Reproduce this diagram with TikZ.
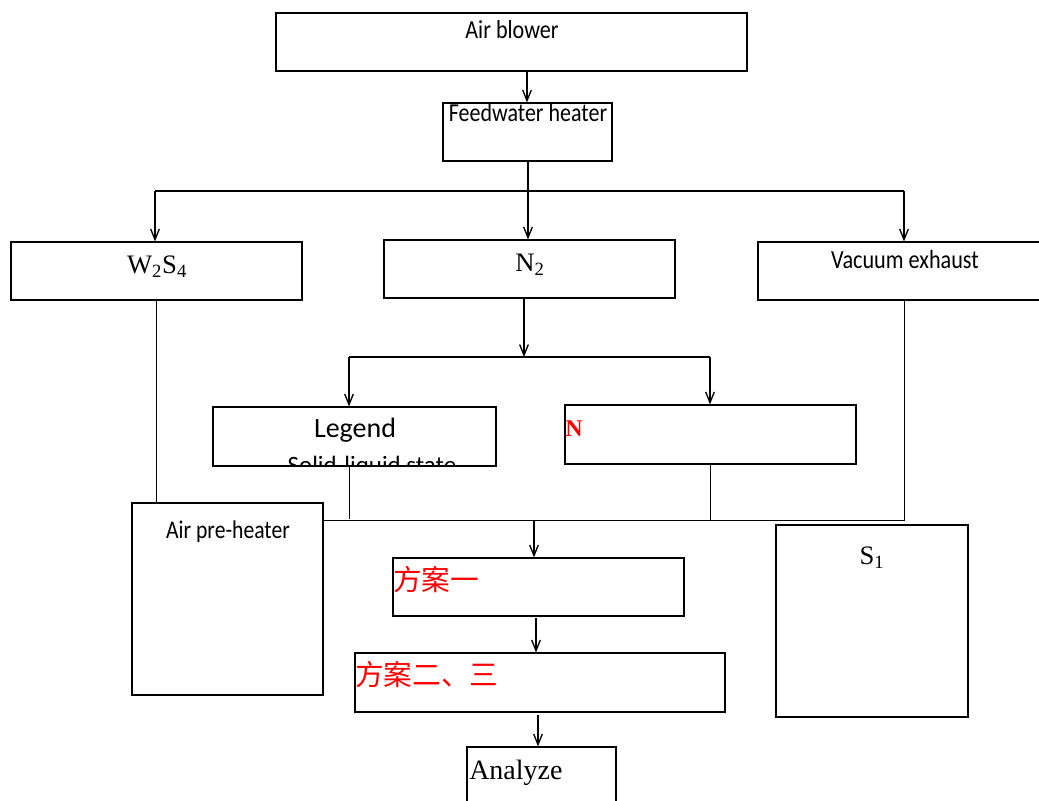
\documentclass[tikz,border=0pt]{standalone}
\usepackage{fontspec}
\setmainfont{Liberation Serif}
\newfontfamily\condf[FakeStretch=0.85]{Carlito}
\newfontfamily\calib{Carlito}
\newfontfamily\cjk{Noto Sans CJK SC}
\usetikzlibrary{arrows.meta,fit}
\tikzset{
  box/.style={draw, line width=0.9pt, inner sep=0pt, fill=none},
  arr/.style={line width=1.4pt, -{Straight Barb[length=8pt,width=6.5pt,line width=1pt]}},
  ln/.style={line width=1pt},
  thinln/.style={line width=0.7pt},
  lab/.style={inner sep=0pt, anchor=base},
  labl/.style={inner sep=0pt, anchor=base west},
}
\begin{document}
\begin{tikzpicture}[x=0.75pt,y=-0.75pt]
\useasboundingbox (0,0) rectangle (1039,800);
% boxes
\node[box, fit={(276,13) (747,71)}] (air) {};
\node[box, fit={(443,103) (612,161)}] (fw) {};
\node[box, fit={(11,242) (302,300)}] (w2) {};
\node[box, fit={(384,240) (675,298)}] (n2) {};
\node[box, fit={(758,242) (1050,300)}] (vac) {};
\node[box, fit={(213,407) (496,466)}] (leg) {};
\node[box, fit={(565,405) (856,464)}] (nb) {};
\node[box, fit={(132,503) (323,695)}] (aph) {};
\node[box, fit={(776,525) (968,717)}] (s1) {};
\node[box, fit={(393,558) (684,616)}] (fa1) {};
\node[box, fit={(355,653) (725,712)}] (fa2) {};
\node[box, fit={(467,747) (616,810)}] (ana) {};
% texts
\node[lab, font=\condf\fontsize{19.5}{22}\selectfont] (tair) at (512,38) {Air blower};
\node[lab, font=\condf\fontsize{19.4}{22}\selectfont] (tfw) at (528,121) {Feedwater heater};
\node[lab, font=\fontsize{20}{22}\selectfont] (tw2) at (157,273) {W\textsubscript{2}S\textsubscript{4}};
\node[lab, font=\fontsize{20}{22}\selectfont] (tn2) at (530,271) {N\textsubscript{2}};
\node[lab, font=\condf\fontsize{19.6}{22}\selectfont] (tvac) at (905,268) {Vacuum exhaust};
\node[lab, font=\calib\fontsize{21}{24}\selectfont] (tleg) at (355,437) {Legend};
\begin{scope}
\clip (leg.south west) rectangle (leg.north east);
\node[lab, font=\calib\fontsize{18.7}{22}\selectfont] (tsls) at (372,473) {Solid-liquid state};
\end{scope}
\node[labl, font=\bfseries\fontsize{18}{20}\selectfont, text=red] (tn) at (565,436) {N};
\node[lab, font=\condf\fontsize{19.1}{22}\selectfont] (taph) at (228,538) {Air pre-heater};
\node[lab, font=\fontsize{20}{22}\selectfont] (ts1) at (872,564) {S\textsubscript{1}};
\node[labl, font=\cjk\fontsize{21.5}{24}\selectfont, text=red] (tfa1) at (393,590) {方案一};
\node[labl, font=\cjk\fontsize{21.5}{24}\selectfont, text=red] (tfa2) at (355,685) {方案二、三};
\node[labl, font=\fontsize{21}{24}\selectfont] (tana) at (469,779) {Analyze};
% junction coordinates
\coordinate (j0) at (527,71);
\coordinate (j1) at (528,191);
\coordinate (jw) at (155,191);
\coordinate (jv) at (904,191);
\coordinate (j2) at (524,357);
\coordinate (jl) at (349,357);
\coordinate (jn) at (710,357);
\coordinate (j3) at (534,520);
\coordinate (k1) at (536,618);
\coordinate (k2) at (538,715);
% connectors
\draw[arr] (j0 |- air.south) -- (j0 |- fw.north);
\draw[arr] (j1 |- fw.south) -- (j1 |- n2.north);
\draw[ln] (jw) -- (jv);
\draw[arr] (jw) -- (jw |- w2.north);
\draw[arr] (jv) -- (jv |- vac.north);
\draw[arr] (n2.south -| j2) -- (j2);
\draw[ln] (jl) -- (jn);
\draw[arr] (jl) -- (jl |- leg.north);
\draw[arr] (jn) -- (jn |- nb.north);
\draw[thinln] (w2.south) -- (w2.south |- aph.north);
\draw[thinln] (jl |- leg.south) -- ([yshift=0.75pt]jl |- j3);
\draw[thinln] (jn |- nb.south) -- (jn |- j3);
\draw[thinln] (jv |- vac.south) -- (jv |- j3) -- (aph.east |- j3);
\draw[arr] (j3) -- (j3 |- fa1.north);
\draw[arr] (k1) -- (k1 |- fa2.north);
\draw[arr] (k2) -- (k2 |- ana.north);
\end{tikzpicture}
\end{document}
